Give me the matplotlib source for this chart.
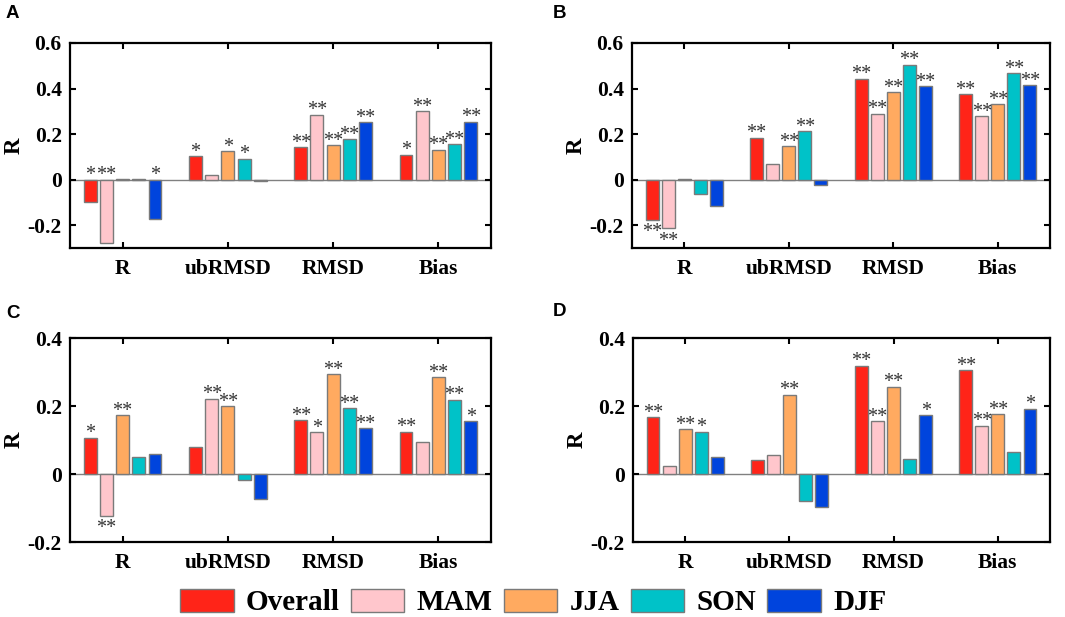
import matplotlib
matplotlib.use("Agg")
import matplotlib.pyplot as plt
import numpy as np
from matplotlib.patches import Patch

# ---------------- data ----------------
metrics = ["R", "ubRMSD", "RMSD", "Bias"]
seasons = ["Overall", "MAM", "JJA", "SON", "DJF"]
colors = ["#FF2418", "#FFC6CC", "#FFAA60", "#00C2C8", "#0044DD"]

# values[panel][season][metric]
A_vals = {
    "Overall": [-0.097, 0.102, 0.142, 0.110],
    "MAM":     [-0.277, 0.022, 0.286, 0.300],
    "JJA":     [0.002, 0.124, 0.151, 0.132],
    "SON":     [0.003, 0.092, 0.178, 0.155],
    "DJF":     [-0.173, -0.004, 0.252, 0.255],
}
A_stars = {
    "Overall": ["*", "*", "**", "*"],
    "MAM":     ["**", "", "**", "**"],
    "JJA":     ["", "*", "**", "**"],
    "SON":     ["", "*", "**", "**"],
    "DJF":     ["*", "", "**", "**"],
}
A_below = {s: [False] * 4 for s in seasons}

B_vals = {
    "Overall": [-0.176, 0.185, 0.443, 0.375],
    "MAM":     [-0.213, 0.068, 0.290, 0.280],
    "JJA":     [0.003, 0.148, 0.385, 0.333],
    "SON":     [-0.062, 0.214, 0.505, 0.469],
    "DJF":     [-0.117, -0.022, 0.412, 0.414],
}
B_stars = {
    "Overall": ["**", "**", "**", "**"],
    "MAM":     ["**", "", "**", "**"],
    "JJA":     ["", "**", "**", "**"],
    "SON":     ["", "**", "**", "**"],
    "DJF":     ["", "", "**", "**"],
}
B_below = {s: [False] * 4 for s in seasons}
B_below["Overall"][0] = True
B_below["MAM"][0] = True

C_vals = {
    "Overall": [0.107, 0.080, 0.158, 0.125],
    "MAM":     [-0.123, 0.222, 0.124, 0.093],
    "JJA":     [0.173, 0.200, 0.293, 0.284],
    "SON":     [0.051, -0.018, 0.193, 0.219],
    "DJF":     [0.059, -0.073, 0.134, 0.155],
}
C_stars = {
    "Overall": ["*", "", "**", "**"],
    "MAM":     ["**", "**", "*", ""],
    "JJA":     ["**", "**", "**", "**"],
    "SON":     ["", "", "**", "**"],
    "DJF":     ["", "", "**", "*"],
}
C_below = {s: [False] * 4 for s in seasons}
C_below["MAM"][0] = True

D_vals = {
    "Overall": [0.168, 0.040, 0.319, 0.306],
    "MAM":     [0.025, 0.056, 0.155, 0.142],
    "JJA":     [0.131, 0.233, 0.257, 0.177],
    "SON":     [0.125, -0.080, 0.043, 0.066],
    "DJF":     [0.049, -0.097, 0.174, 0.192],
}
D_stars = {
    "Overall": ["**", "", "**", "**"],
    "MAM":     ["", "", "**", "**"],
    "JJA":     ["**", "**", "**", "**"],
    "SON":     ["*", "", "", ""],
    "DJF":     ["", "", "*", "*"],
}
D_below = {s: [False] * 4 for s in seasons}

panel_labels = ["A", "B", "C", "D"]
ylims = [(-0.3, 0.6), (-0.3, 0.6), (-0.2, 0.4), (-0.2, 0.4)]
yticks_list = [[-0.2, 0, 0.2, 0.4, 0.6], [-0.2, 0, 0.2, 0.4, 0.6],
               [-0.2, 0, 0.2, 0.4], [-0.2, 0, 0.2, 0.4]]
yticklabels_list = [["-0.2", "0", "0.2", "0.4", "0.6"], ["-0.2", "0", "0.2", "0.4", "0.6"],
                    ["-0.2", "0", "0.2", "0.4"], ["-0.2", "0", "0.2", "0.4"]]

panels = [(A_vals, A_stars, A_below), (B_vals, B_stars, B_below),
          (C_vals, C_stars, C_below), (D_vals, D_stars, D_below)]

# ---------------- figure ----------------
W, H = 1065, 617
fig = plt.figure(figsize=(W / 100, H / 100), dpi=100)
serif = "Liberation Serif"

def px_axes(l, t, r, b):
    return [l / W, 1 - b / H, (r - l) / W, (b - t) / H]

rects = [px_axes(70, 43, 491, 248), px_axes(632, 43, 1050, 248),
         px_axes(70, 338, 491, 542), px_axes(633, 338, 1050, 542)]
label_pos = [(6, 13), (553, 13), (6, 313), (553, 312)]

n = len(seasons)
group_w = min(0.8, n / (n + 1.5))
step = group_w / n
bar_w = step * 0.8
x = np.arange(1, len(metrics) + 1)

for pi, (vals, stars, below) in enumerate(panels):
    ax = fig.add_axes(rects[pi])
    ax.axhline(0, color="#808080", lw=1.0, zorder=1)
    for si, s in enumerate(seasons):
        xs = x + (si - (n - 1) / 2) * step
        v = np.array(vals[s])
        ax.bar(xs, v, width=bar_w, color=colors[si], edgecolor="#7a7a7a",
               linewidth=1.0, zorder=2)
        for k in range(len(metrics)):
            st = stars[s][k]
            if not st:
                continue
            if below[s][k]:
                ax.annotate(st, (xs[k], v[k]), xytext=(0, -12.5),
                            textcoords="offset points", ha="center", va="baseline",
                            fontsize=14.5, family=serif, color="#333333", zorder=3)
            else:
                ax.annotate(st, (xs[k], max(v[k], 0)), xytext=(0, -0.5),
                            textcoords="offset points", ha="center", va="baseline",
                            fontsize=14.5, family=serif, color="#333333", zorder=3)
    ax.set_xlim(0.5, 4.5)
    ax.set_ylim(*ylims[pi])
    ax.set_xticks(x)
    ax.set_xticklabels(metrics, family=serif, fontweight="bold", fontsize=15.5)
    ax.set_yticks(yticks_list[pi])
    ax.set_yticklabels(yticklabels_list[pi], family=serif, fontweight="bold", fontsize=15.5)
    ax.tick_params(direction="in", length=4, width=1.5, top=True, right=True)
    ax.tick_params(axis="x", pad=8)
    ax.tick_params(axis="y", pad=6)
    for sp in ax.spines.values():
        sp.set_linewidth(1.6)
    ax.set_ylabel("R", family=serif, fontweight="bold", fontsize=16.5)
    ax.yaxis.set_label_coords(-0.108, 0.5)
    lx, ly = label_pos[pi]
    fig.text(lx / W, 1 - ly / H, panel_labels[pi], family="Liberation Sans",
             fontweight="bold", fontsize=13.5, va="center", ha="left")

handles = [Patch(facecolor=c, edgecolor="#7a7a7a", linewidth=1.0) for c in colors]
fig.legend(handles, seasons, loc="center", bbox_to_anchor=(0.5005, 1 - 602.5 / H),
           ncol=5, frameon=False, handlelength=1.85, handleheight=0.86,
           handletextpad=0.41, columnspacing=0.38, borderpad=0.0,
           prop={"family": serif, "weight": "bold", "size": 21})

fig.savefig("out.png", dpi=100)
